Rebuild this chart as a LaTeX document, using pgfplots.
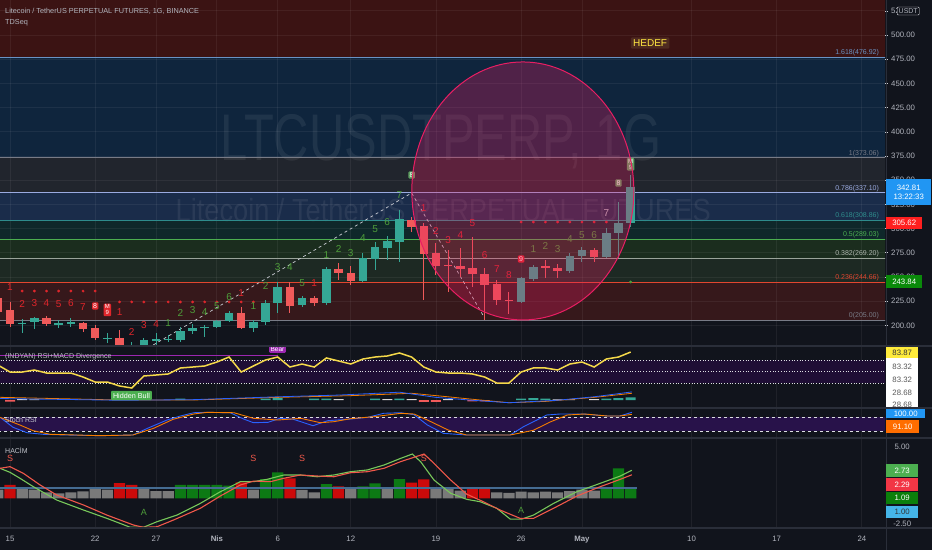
\documentclass[border=0pt]{standalone}
\usepackage{fontspec}
\setmainfont{Liberation Sans}
\usepackage{pgfplots}
\usepackage{pgfplotstable}
\pgfplotsset{compat=1.18}
\definecolor{bg}{HTML}{11141C}
\definecolor{sep}{HTML}{2A2E39}
\definecolor{txt}{HTML}{B2B5BE}
\definecolor{upc}{HTML}{35A795}
\definecolor{dnc}{HTML}{F05A5A}
\definecolor{tdred}{HTML}{E0262B}
\definecolor{tdgreen}{HTML}{4E9E3A}
\definecolor{tdbox}{HTML}{5E9E60}
\definecolor{bandA}{HTML}{3B1313}
\definecolor{bandB}{HTML}{0F253D}
\definecolor{bandC}{HTML}{21252D}
\definecolor{bandD}{HTML}{1A2C4A}
\definecolor{bandE}{HTML}{0F282A}
\definecolor{bandF}{HTML}{1B2D1E}
\definecolor{bandG}{HTML}{1D2923}
\definecolor{bandH}{HTML}{36181B}
\definecolor{fibA}{HTML}{6A93C4}
\definecolor{fibB}{HTML}{787B86}
\definecolor{fibC}{HTML}{9AAAE0}
\definecolor{fibD}{HTML}{2E8C8C}
\definecolor{fibE}{HTML}{4CAF50}
\definecolor{fibF}{HTML}{9AA49A}
\definecolor{fibG}{HTML}{E2462F}
\definecolor{pinkc}{HTML}{E91E63}
\definecolor{purp}{HTML}{9C27B0}
\definecolor{rsiband}{HTML}{1F0E35}
\definecolor{stband}{HTML}{28124A}
\definecolor{rsiy}{HTML}{F5D94A}
\definecolor{macdo}{HTML}{F57C00}
\definecolor{macdb}{HTML}{2962FF}
\definecolor{volg}{HTML}{7A7A7A}
\definecolor{volr}{HTML}{CC0A0A}
\definecolor{volgr}{HTML}{0C7A14}
\definecolor{hred}{HTML}{F0584A}
\definecolor{hgreen}{HTML}{78C85A}
\definecolor{avgl}{HTML}{456C92}
\definecolor{hedefbg}{HTML}{4E2A20}
\definecolor{hedefy}{HTML}{FFE640}
\definecolor{boxblue}{HTML}{2196F3}
\definecolor{boxred}{HTML}{FF1F1F}
\definecolor{boxgreen}{HTML}{0A8A0A}
\definecolor{boxyellow}{HTML}{FFEB3B}
\definecolor{boxorange}{HTML}{FF6D00}
\definecolor{boxlgreen}{HTML}{4CAF50}
\definecolor{boxlred}{HTML}{F23645}
\definecolor{boxdgreen}{HTML}{0B7F0B}
\definecolor{boxlblue}{HTML}{45B5E8}

\pgfplotstableread{
d o h l c
1 201.5 206.7 192.2 202.5
2 203.6 208.7 196.3 207.7
4 201.5 205.6 197.4 202.0
5 202.0 207.7 198.4 203.0
8 186.5 192.2 181.9 187.0
10 174.6 183.0 170.0 179.8
11 177.7 187.0 175.0 185.0
12 185.0 192.2 179.8 185.5
13 185.5 190.1 183.0 186.0
14 185.0 198.4 183.0 194.3
15 194.3 201.5 191.2 197.4
16 197.4 200.5 188.1 198.4
17 198.4 206.0 197.0 204.6
18 204.6 215.0 203.0 212.9
20 197.4 205.6 193.2 203.6
21 203.6 226.3 200.5 223.2
22 223.2 244.9 212.9 239.7
24 221.1 230.4 219.1 228.4
26 223.2 260.4 221.1 258.3
29 245.9 274.8 244.9 269.7
30 268.6 286.2 257.3 281.0
31 280.0 292.4 267.6 287.2
32 286.2 319.3 265.5 310.0
42 224.2 250.0 223.2 249.0
43 248.0 262.4 245.9 260.4
46 256.3 274.8 254.2 271.7
47 271.7 281.0 265.5 277.9
49 270.7 300.7 269.7 295.5
50 295.5 327.5 269.7 305.6
51 305.6 355.4 301.7 342.81
}\uptab
\pgfplotstableread{
d o h l c
-1 228.4 231.5 210.8 213.9
0 216.0 224.2 198.4 201.5
3 207.7 209.8 199.4 201.5
6 202.5 203.6 193.2 196.3
7 197.4 200.5 185.0 187.0
9 187.0 195.3 169.5 174.6
19 212.9 219.1 196.3 197.4
23 239.7 244.9 212.9 220.1
25 228.4 230.4 220.1 223.2
27 258.3 264.5 247.0 254.2
28 254.2 261.4 241.8 245.9
33 308.9 312.0 296.5 301.7
34 302.7 305.8 226.3 273.8
35 274.8 285.2 252.1 261.4
36 262.4 277.9 234.6 261.4
37 261.4 280.0 250.0 258.3
38 259.4 291.4 239.7 253.2
39 253.2 259.4 205.6 241.8
40 242.8 247.0 221.1 226.3
41 226.3 234.6 211.9 225.3
44 260.9 267.6 249.0 259.9
45 259.4 263.5 249.0 256.3
48 277.9 280.0 265.5 270.7
}\dntab
\pgfplotstableread{
d r
-1 61.3
0 49.1
1 49.1
2 52.6
3 47.4
4 47.4
5 47.4
6 40.4
7 31.7
8 31.7
9 24.8
10 21.3
11 42.2
12 43.9
13 45.7
14 56.1
15 57.8
16 59.6
17 66.5
18 75.2
19 49.1
20 59.6
21 70.0
22 75.2
23 57.8
24 63.0
25 57.8
26 73.5
27 68.3
28 63.0
29 71.7
30 75.2
31 77.0
32 82.2
33 75.2
34 57.8
35 49.1
36 47.4
37 47.4
38 45.7
39 40.4
40 30.0
41 30.0
42 49.1
43 56.1
44 56.1
45 52.6
46 63.0
47 66.5
48 57.8
49 71.7
50 75.2
51 83.87
}\rsitab
\pgfplotstableread{
d s
-0.82 78.7
0.25 35.9
1.4 12.7
2.72 5.9
4.69 2.9
7.41 0
10.1 2.9
11.3 31.6
12.9 67.1
14 84.3
15.1 98.4
16.2 100
18.1 98.4
19.2 71.4
20 55.6
21.2 57.3
22.2 74.4
23.3 70.1
24.9 42.7
26.1 64.1
28 71.4
29.4 78.7
30.7 95.9
32.1 98.4
33.2 89.9
34.3 45.7
35.6 10.1
37.5 2.9
41.1 2.9
42.2 38.6
43.3 67.1
44.1 88.6
45.2 92.9
47.1 92.9
49.1 84.3
50.1 84.3
51.1 100
}\stk
\pgfplotstableread{
d s
-0.82 78.7
0.82 45.7
1.9 21.4
3.3 5.9
7.4 0
10.1 2.9
11.8 31.6
13.4 70.1
15.1 92.9
16.2 100
18.4 98.4
20 74.4
22 67.1
23.9 74.4
25.5 55.6
26.6 59.9
28 72.9
29.9 81.4
32.1 95.7
33.2 92.9
34.3 67.1
36 24.3
37.5 2.9
41.1 2.9
43.0 23
44.4 59
45.8 88.6
47.2 92.9
49.1 84.3
50.1 84.3
51.1 91.1
}\std
\pgfplotstableread{
d v
-1 0.85
1 0.91
2 0.85
3 0.58
4 0.49
5 0.58
6 0.68
7 1.00
8 0.85
11 1.00
12 0.71
13 0.71
20 0.85
24 0.81
25 0.58
28 0.91
31 0.91
35 0.97
36 0.97
37 0.75
40 0.58
41 0.52
42 0.65
43 0.58
44 0.65
45 0.58
46 0.71
47 0.85
48 0.75
}\volgray
\pgfplotstableread{
d v
0 1.30
9 1.49
10 1.30
19 1.56
23 1.95
27 1.17
33 1.53
34 1.85
38 1.07
39 1.07
}\volred
\pgfplotstableread{
d v
14 1.30
15 1.30
16 1.30
17 1.30
18 1.24
21 1.88
22 2.53
26 1.39
29 1.17
30 1.46
32 1.88
49 1.07
50 2.92
51 1.09
}\volgreen
\pgfplotstableread{
d v
-0.82 2.92
0 2.53
0.82 1.95
1.92 1.13
3.84 -0.17
6.04 -1.14
7.96 -1.95
9.88 -2.82
10.97 -2.82
12.07 -2.28
13.72 -1.63
15.64 -0.49
17.28 0.64
18.93 1.62
20.03 1.62
21.13 1.85
22.5 2.27
23.87 2.27
25.24 2.10
26.61 2.27
27.98 2.59
29.36 2.76
30.73 3.24
32.1 3.89
33.06 4.31
33.74 3.57
34.84 1.78
36.21 0.49
37.53 -0.10
38.63 -0.33
40 -0.97
41.1 -2.02
42.06 -2.02
43.02 -1.63
44.67 -0.49
46.58 0.64
48.5 1.46
50.15 2.17
51.1 2.73
}\hgr
\pgfplotstableread{
d v
-0.82 2.92
0 3.08
1.1 2.43
2.47 1.30
3.84 0.32
6.04 -0.65
7.96 -1.63
10.15 -2.60
10.97 -2.82
12.07 -2.77
13.44 -2.11
15.64 -0.97
17.28 0.22
18.93 1.30
20.03 1.68
21.4 1.62
22.5 1.95
23.87 2.27
25.24 2.17
26.61 2.10
27.98 2.49
29.36 2.59
30.73 2.92
32.1 3.57
34.02 4.31
34.84 3.41
36.21 1.78
37.53 0.40
38.9 -0.33
40.27 -1.14
41.92 -1.95
43.02 -1.95
44.67 -0.97
46.58 0.22
48.5 1.13
50.15 1.85
51.1 2.29
}\hrd

\pgfplotsset{
  pane/.style={scale only axis, width=885pt, xmin=-0.822, xmax=71.9,
    axis line style={draw=none}, tick style={draw=none},
    xtick={0,7,12,17,22,28,35,42,47,56,63,70}, xticklabels={},
    grid style={draw=white, opacity=0.06, line width=0.8pt}},
  band/.style={fill=#1, draw=none},
}
\newcommand{\tdf}{\fontsize{10}{11}\selectfont}
\newcommand{\tr}[3]{\node[text=tdred, font=\tdf, inner sep=0pt] at (axis cs:#1,#2) {#3};}
\newcommand{\tg}[3]{\node[text=tdgreen, font=\tdf, inner sep=0pt] at (axis cs:#1,#2) {#3};}
\newcommand{\fibl}[3]{\node[anchor=south east, inner sep=1pt, text=#1, font=\fontsize{7}{8}\selectfont] at (axis cs:71.5,#2) {#3};}
\newcommand{\px}[2]{(#1pt,-#2pt)}

\begin{document}
\begin{tikzpicture}
\useasboundingbox (0pt,0pt) rectangle (932pt,-550pt);
\fill[bg] (0pt,0pt) rectangle (932pt,-550pt);

% ---------- background bands of main pane
\begin{axis}[pane, hide axis, at={(0pt,0pt)}, anchor=north west, height=346pt, ymin=178.7, ymax=536.16]
\addplot[band=bandA] coordinates {(-1,476.92) (73,476.92) (73,540) (-1,540)} -- cycle;
\addplot[band=bandB] coordinates {(-1,373.06) (73,373.06) (73,476.92) (-1,476.92)} -- cycle;
\addplot[band=bandC] coordinates {(-1,337.10) (73,337.10) (73,373.06) (-1,373.06)} -- cycle;
\addplot[band=bandD] coordinates {(-1,308.86) (73,308.86) (73,337.10) (-1,337.10)} -- cycle;
\addplot[band=bandE] coordinates {(-1,289.03) (73,289.03) (73,308.86) (-1,308.86)} -- cycle;
\addplot[band=bandF] coordinates {(-1,269.20) (73,269.20) (73,289.03) (-1,289.03)} -- cycle;
\addplot[band=bandG] coordinates {(-1,244.66) (73,244.66) (73,269.20) (-1,269.20)} -- cycle;
\addplot[band=bandH] coordinates {(-1,205.00) (73,205.00) (73,244.66) (-1,244.66)} -- cycle;
\node[text=white, opacity=0.07, font=\fontsize{66}{70}\selectfont, xscale=0.74] at (axis cs:35.4,389.5) {LTCUSDTPERP, 1G};
\node[text=white, opacity=0.07, font=\fontsize{32}{36}\selectfont, xscale=0.85] at (axis cs:35.6,319.2) {Litecoin / TetherUS PERPETUAL FUTURES};
\end{axis}

% ---------- main pane
\begin{axis}[pane, at={(0pt,0pt)}, anchor=north west, height=346pt, ymin=178.7, ymax=536.16,
  xmajorgrids, ymajorgrids, clip mode=individual,
  ytick={200,225,250,275,300,325,350,375,400,425,450,475,500,525},
  yticklabels={200.00,225.00,250.00,275.00,300.00,325.00,350.00,375.00,400.00,425.00,450.00,475.00,500.00,525.00},
  yticklabel pos=right, ytick style={draw=txt!70, line width=0.6pt}, tick align=outside, major tick length=3pt,
  yticklabel style={font=\fontsize{7.8}{9}\selectfont, text=txt, anchor=west, inner sep=0pt},
  yticklabel shift=3pt]
\addplot[fibA, line width=1pt] coordinates {(-1,476.92) (73,476.92)};
\addplot[fibB, line width=1pt] coordinates {(-1,373.06) (73,373.06)};
\addplot[fibC, line width=1pt] coordinates {(-1,337.10) (73,337.10)};
\addplot[fibD, line width=1pt] coordinates {(-1,308.86) (73,308.86)};
\addplot[fibE, line width=1pt] coordinates {(-1,289.03) (73,289.03)};
\addplot[fibF, line width=1pt] coordinates {(-1,269.20) (73,269.20)};
\addplot[fibG, line width=1pt] coordinates {(-1,244.66) (73,244.66)};
\addplot[fibB, line width=1pt] coordinates {(-1,205.00) (73,205.00)};
\fibl{fibA}{476.92}{1.618(476.92)}
\fibl{fibB}{373.06}{1(373.06)}
\fibl{fibC}{337.10}{0.786(337.10)}
\fibl{fibD}{308.86}{0.618(308.86)}
\fibl{fibE}{289.03}{0.5(289.03)}
\fibl{fibF!80!white}{269.20}{0.382(269.20)}
\fibl{fibG}{244.66}{0.236(244.66)}
\fibl{fibB}{205.00}{0(205.00)}
\addplot[txt!70, dashed, line width=0.7pt] coordinates {(11.77,179.8) (33,336.8) (39,207.7)};
\addplot[only marks, mark=*, mark size=1.2pt, tdred] coordinates {(1,235.5) (2,235.5) (3,235.5) (4,235.5) (5,235.5) (6,235.5) (7,235.5)};
\addplot[only marks, mark=*, mark size=1.2pt, tdred] coordinates {(9,224.2) (10,224.2) (11,224.2) (12,224.2) (13,224.2) (14,224.2) (15,224.2) (16,224.2) (17,224.2) (18,224.2) (19,224.2) (20,224.2)};
\addplot[only marks, mark=*, mark size=1.2pt, tdred] coordinates {(42,306.8) (43,306.8) (44,306.8) (45,306.8) (46,306.8) (47,306.8) (48,306.8) (49,306.8)};
\addplot[only marks, mark=*, mark size=1.2pt, tdgreen] coordinates {(51,244.9)};
\addplot[draw=none, mark=none, error bars/.cd, y dir=both, y explicit, error mark=none,
  error bar style={draw=upc, line width=1pt}]
  table[x=d, y expr={(\thisrow{h}+\thisrow{l})/2}, y error expr={(\thisrow{h}-\thisrow{l})/2}] {\uptab};
\addplot[draw=none, mark=none, error bars/.cd, y dir=both, y explicit, error mark=none,
  error bar style={draw=dnc, line width=1pt}]
  table[x=d, y expr={(\thisrow{h}+\thisrow{l})/2}, y error expr={(\thisrow{h}-\thisrow{l})/2}] {\dntab};
\addplot[draw=none, mark=none, error bars/.cd, y dir=both, y explicit, error mark=none,
  error bar style={draw=upc, line width=8.5pt}]
  table[x=d, y expr={(\thisrow{o}+\thisrow{c})/2}, y error expr={max(abs(\thisrow{c}-\thisrow{o})/2,0.5)}] {\uptab};
\addplot[draw=none, mark=none, error bars/.cd, y dir=both, y explicit, error mark=none,
  error bar style={draw=dnc, line width=8.5pt}]
  table[x=d, y expr={(\thisrow{o}+\thisrow{c})/2}, y error expr={max(abs(\thisrow{c}-\thisrow{o})/2,0.5)}] {\dntab};
\tr{0}{239.7}{1}\tr{1}{222.1}{2}\tr{2}{223.2}{3}\tr{3}{223.2}{4}\tr{4}{222.1}{5}\tr{5}{223.2}{6}\tr{6}{219.0}{7}
\node[fill=tdred, text=white, font=\fontsize{7}{8}\selectfont, inner sep=1.2pt, rounded corners=1pt] at (axis cs:7,220.1) {8};
\node[fill=tdred, text=white, font=\fontsize{6}{7}\selectfont, inner sep=1.2pt, rounded corners=1pt, align=center] at (axis cs:8,216.0) {M\\[-1pt]9};
\tr{9}{213.9}{1}\tr{10}{193.2}{2}\tr{11}{200.4}{3}\tr{12}{201.5}{4}
\tg{13}{202.5}{1}\tg{14}{212.8}{2}\tg{15}{216.0}{3}\tg{16}{213.9}{4}\tg{17}{220.1}{5}\tg{18}{229.4}{6}
\tr{19}{233.5}{1}\tg{20}{220.1}{1}\tg{21}{240.7}{2}\tg{22}{260.3}{3}\tg{23}{260.3}{4}\tg{24}{243.8}{5}\tr{25}{243.8}{1}
\tg{26}{272.8}{1}\tg{27}{278.9}{2}\tg{28}{274.8}{3}\tg{29}{290.3}{4}\tg{30}{299.6}{5}\tg{31}{306.8}{6}\tg{32}{334.7}{7}
\node[fill=tdbox, text=white, font=\fontsize{7}{8}\selectfont, inner sep=1.2pt, rounded corners=1pt] at (axis cs:33,355.4) {8};
\tr{34}{321.3}{1}\tr{35}{297.5}{2}\tr{36}{288.2}{3}\tr{37}{293.4}{4}\tr{38}{305.8}{5}\tr{39}{272.8}{6}\tr{40}{258.3}{7}\tr{41}{252.1}{8}
\node[fill=tdred, text=white, font=\fontsize{7}{8}\selectfont, inner sep=1.2pt, rounded corners=1pt] at (axis cs:42,268.6) {9};
\tg{43}{278.9}{1}\tg{44}{282.0}{2}\tg{45}{278.9}{3}\tg{46}{289.3}{4}\tg{47}{293.4}{5}\tg{48}{293.4}{6}
\node[text=txt!80, font=\tdf, inner sep=0pt] at (axis cs:49,316.1) {7};
\node[fill=tdbox, text=white, font=\fontsize{7}{8}\selectfont, inner sep=1.2pt, rounded corners=1pt] at (axis cs:50,347.1) {8};
\node[fill=tdbox, text=white, font=\fontsize{6}{7}\selectfont, inner sep=1.2pt, rounded corners=1pt, align=center] at (axis cs:51,366.5) {M\\[-1pt]9};
\draw[pinkc, line width=1pt, fill=pinkc, fill opacity=0.3] (axis cs:42.14,338.9) ellipse [x radius=111pt, y radius=129pt];
\node[fill=hedefbg, text=hedefy, font=\fontsize{10}{11}\selectfont, inner sep=2.2pt, rounded corners=1pt] at (axis cs:52.6,491.7) {HEDEF};
\end{axis}

% ---------- RSI pane
\begin{axis}[pane, at={(0pt,-346pt)}, anchor=north west, height=62pt, ymin=-13.5, ymax=94.35, ytick=\empty,
  xmajorgrids, clip mode=individual]
\addplot[band=rsiband] coordinates {(-1,30) (73,30) (73,70) (-1,70)} -- cycle;
\addplot[txt!45, dotted, line width=0.7pt] coordinates {(-1,70) (73,70)};
\addplot[txt!45, dotted, line width=0.7pt] coordinates {(-1,50) (73,50)};
\addplot[txt!45, dotted, line width=0.7pt] coordinates {(-1,30) (73,30)};
\addplot[purp, line width=1pt] coordinates {(-0.82,77.3) (22.0,77.3)};
\addplot[ybar, bar width=10pt, bar shift=0pt, fill=upc, draw=none] coordinates {(14,3) (21,3) (22,3.5) (25,3) (26,3) (30,3) (32,3) (42,3) (43,3.5) (44,3) (49,3) (50,3.5) (51,5)};
\addplot[ybar, bar width=10pt, bar shift=0pt, fill=white!85!black, draw=none] coordinates {(1,2) (2,1.5) (27,2) (31,2) (33,2) (36,2) (48,2) (45,1.5) (46,1.5)};
\addplot[ybar, bar width=10pt, bar shift=0pt, fill=dnc, draw=none] coordinates {(0,-2.5) (34,-3) (35,-3) (38,-2) (39,-2)};
\addplot[macdo, line width=0.8pt] coordinates {(-0.82,5.1) (9,0.4) (15,0.4) (22,5) (28,8) (33,12.1) (36,6) (38,1.7) (41,-4.3) (44,-2) (48,5) (51.1,12.1)};
\addplot[macdb, line width=0.8pt] coordinates {(-0.82,3) (9,0) (15,1) (22,6) (27,9) (32,14) (35,5) (38,0) (41,-4.3) (45,0) (48,6) (51.1,14.5)};
\addplot[rsiy, line width=1.5pt] table[x=d, y=r] {\rsitab};
\node[fill=purp, text=white, font=\fontsize{6.5}{7}\selectfont, inner sep=1.5pt, rounded corners=1pt] at (axis cs:21.98,89.1) {Bear};
\node[fill=fibE, text=white, font=\fontsize{7.2}{8}\selectfont, inner sep=2pt, rounded corners=1pt] at (axis cs:9.98,8.3) {Hidden Bull};
\end{axis}

% ---------- Stoch RSI pane
\begin{axis}[pane, at={(0pt,-408pt)}, anchor=north west, height=30pt, ymin=-10, ymax=118.6, ytick=\empty, xmajorgrids]
\addplot[band=stband] coordinates {(-1,20) (73,20) (73,80) (-1,80)} -- cycle;
\addplot[txt!45, dashed, line width=0.6pt] coordinates {(-1,80) (73,80)};
\addplot[txt!45, dashed, line width=0.6pt] coordinates {(-1,20) (73,20)};
\addplot[macdb, line width=0.9pt] table[x=d, y=s] {\stk};
\addplot[macdo, line width=0.9pt] table[x=d, y=s] {\std};
\end{axis}

% ---------- HACIM pane
\begin{axis}[pane, at={(0pt,-438pt)}, anchor=north west, height=90pt, ymin=-2.89, ymax=5.87, ytick=\empty, xmajorgrids,
  clip mode=individual,
  xticklabels={15,22,27,\textbf{Nis},6,12,19,26,\textbf{May},10,17,24},
  xticklabel style={font=\fontsize{7.8}{9}\selectfont, text=txt, anchor=base, yshift=-13pt}]
\addplot[ybar, bar width=11.2pt, bar shift=0pt, fill=volg, draw=none] table[x=d, y=v] {\volgray};
\addplot[ybar, bar width=11.2pt, bar shift=0pt, fill=volr, draw=none] table[x=d, y=v] {\volred};
\addplot[ybar, bar width=11.2pt, bar shift=0pt, fill=volgr, draw=none] table[x=d, y=v] {\volgreen};
\addplot[avgl, line width=1.2pt] coordinates {(-0.82,1.0) (51.5,1.0)};
\addplot[hgreen, line width=1.1pt] table[x=d, y=v] {\hgr};
\addplot[hred, line width=1.1pt] table[x=d, y=v] {\hrd};
\node[text=hred, font=\fontsize{9}{10}\selectfont] at (axis cs:0,3.92) {S};
\node[text=hred, font=\fontsize{9}{10}\selectfont] at (axis cs:20,3.92) {S};
\node[text=hred, font=\fontsize{9}{10}\selectfont] at (axis cs:24,3.92) {S};
\node[text=hred, font=\fontsize{9}{10}\selectfont] at (axis cs:34,3.92) {S};
\node[text=tdgreen, font=\fontsize{9}{10}\selectfont] at (axis cs:11,-1.33) {A};
\node[text=tdgreen, font=\fontsize{9}{10}\selectfont] at (axis cs:42,-1.14) {A};
\end{axis}

% ---------- frame and labels
\draw[sep, line width=1.5pt] \px{0}{346} -- \px{932}{346};
\draw[sep, line width=1.5pt] \px{0}{408} -- \px{932}{408};
\draw[sep, line width=1.5pt] \px{0}{438} -- \px{932}{438};
\draw[sep, line width=1.5pt] \px{0}{528} -- \px{932}{528};
\draw[sep, line width=1pt] \px{886}{0} -- \px{886}{550};

\node[anchor=west, text=txt, font=\fontsize{7.3}{8}\selectfont, inner sep=0pt] at \px{5}{11} {Litecoin / TetherUS PERPETUAL FUTURES, 1G, BINANCE};
\node[anchor=west, text=txt, font=\fontsize{7.3}{8}\selectfont, inner sep=0pt] at \px{5}{23} {TDSeq};
\node[anchor=west, text=txt!80, font=\fontsize{7}{8}\selectfont, inner sep=0pt] at \px{5}{357} {(INDYAN) RSI+MACD Divergence};
\node[anchor=west, text=txt!80, font=\fontsize{7}{8}\selectfont, inner sep=0pt] at \px{5}{420} {Stoch RSI};
\node[anchor=west, text=txt!80, font=\fontsize{7}{8}\selectfont, inner sep=0pt] at \px{5}{450} {HACİM};

\tikzset{pb/.style={anchor=west, inner sep=0pt, minimum height=#1, align=center, font=\fontsize{7.8}{9}\selectfont}}
\node[anchor=west, draw=txt!50, fill=bg, text=txt, rounded corners=1pt, inner sep=1.5pt, font=\fontsize{7}{8}\selectfont] at \px{897}{11} {USDT};
\node[anchor=north west, fill=boxblue, inner sep=0pt, minimum width=45pt, minimum height=26pt, align=center, text=white, font=\fontsize{7.8}{9.5}\selectfont] at \px{886}{179} {342.81\\13:22:33};
\node[pb=12.5pt, fill=boxred, text=white, minimum width=36pt] at \px{886}{223} {305.62};
\node[pb=12.5pt, fill=boxgreen, text=white, minimum width=36pt] at \px{886}{281.5} {243.84};
\node[pb=11pt, fill=boxyellow, text=black!80, minimum width=32pt] at \px{886}{352.5} {83.87};
\fill[white] \px{886}{358} rectangle \px{918}{407};
\node[pb=10pt, text=black!65, minimum width=32pt] at \px{886}{367} {83.32};
\node[pb=10pt, text=black!65, minimum width=32pt] at \px{886}{380} {83.32};
\node[pb=10pt, text=black!65, minimum width=32pt] at \px{886}{393} {28.68};
\node[pb=10pt, text=black!65, minimum width=32pt] at \px{886}{405} {28.68};
\node[pb=9.5pt, fill=boxblue, text=white, minimum width=39pt] at \px{886}{413.5} {100.00};
\node[pb=13pt, fill=boxorange, text=white, minimum width=33pt] at \px{886}{426.5} {91.10};
\node[pb=10pt, text=txt, minimum width=32pt] at \px{886}{447} {5.00};
\node[pb=13pt, fill=boxlgreen, text=white, minimum width=32pt] at \px{886}{470.5} {2.73};
\node[pb=13pt, fill=boxlred, text=white, minimum width=32pt] at \px{886}{484.5} {2.29};
\node[pb=12pt, fill=boxdgreen, text=white, minimum width=32pt] at \px{886}{498} {1.09};
\node[pb=12pt, fill=boxlblue, text=black!80, minimum width=32pt] at \px{886}{512} {1.00};
\node[pb=10pt, text=txt, minimum width=32pt] at \px{886}{523.5} {-2.50};
\end{tikzpicture}
\end{document}
